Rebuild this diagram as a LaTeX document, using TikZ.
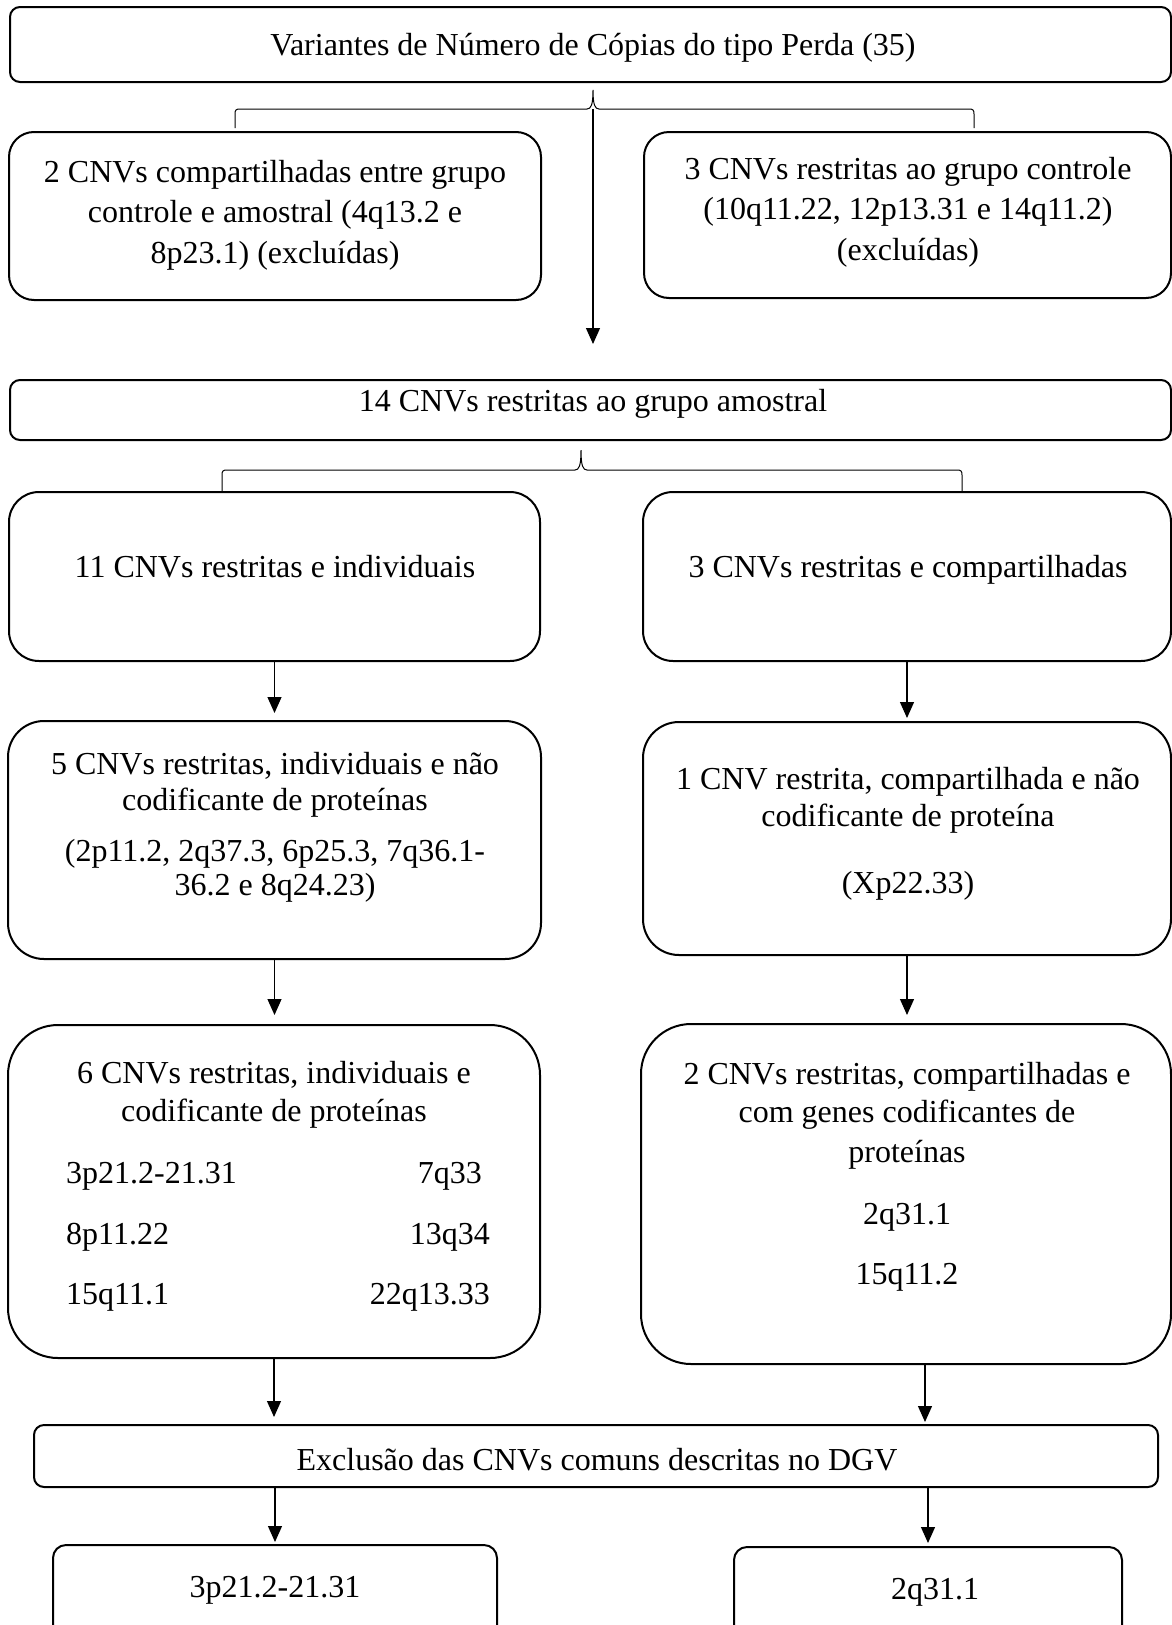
\documentclass[tikz,border=0pt]{standalone}
\usepackage{fontspec}
\setmainfont{Liberation Serif}
\usetikzlibrary{arrows.meta}
\tikzset{
  box/.style={draw, line width=2pt, inner sep=0pt, outer sep=0pt},
  arr/.style={line width=1.2pt, -{Triangle[length=16pt,width=14pt]}},
  bracepath/.style={line width=1pt},
  lbl/.style={anchor=base, inner sep=0pt, font=\fontsize{32}{40}\selectfont},
  lblw/.style={lbl, anchor=base west},
  lble/.style={lbl, anchor=base east}
}
\begin{document}
\begin{tikzpicture}[x=1pt,y=-1pt]
\useasboundingbox (0,0) rectangle (1172,1625);
% boxes
\node[box, rounded corners=10pt, minimum width=1161pt, minimum height=75pt] (top) at (590.5,44.5) {};
\node[box, rounded corners=25pt, minimum width=532pt, minimum height=168pt] (b2l) at (275,216) {};
\node[box, rounded corners=25pt, minimum width=527pt, minimum height=166pt] (b2r) at (907.5,215) {};
\node[box, rounded corners=10pt, minimum width=1161pt, minimum height=60pt] (mid) at (590.5,410) {};
\node[box, rounded corners=30pt, minimum width=531pt, minimum height=169pt] (b3l) at (274.5,576.5) {};
\node[box, rounded corners=30pt, minimum width=528pt, minimum height=169pt] (b3r) at (907,576.5) {};
\node[box, rounded corners=36pt, minimum width=533pt, minimum height=238pt] (b4l) at (274.5,840) {};
\node[box, rounded corners=36pt, minimum width=528pt, minimum height=233pt] (b4r) at (907,838.5) {};
\node[box, rounded corners=50pt, minimum width=532pt, minimum height=333pt] (b5l) at (274,1191.5) {};
\node[box, rounded corners=50pt, minimum width=530pt, minimum height=340pt] (b5r) at (906,1194) {};
\node[box, rounded corners=10pt, minimum width=1124pt, minimum height=62pt] (excl) at (596,1456) {};
\node[box, rounded corners=13pt, minimum width=444pt, minimum height=105pt] (fl) at (275,1597.5) {};
\node[box, rounded corners=13pt, minimum width=388pt, minimum height=103pt] (fr) at (928,1598.5) {};
% texts
\node[lbl] (t1) at (593,55) {Variantes de Número de Cópias do tipo Perda (35)};
\node[lbl] (t2a) at (275,182) {2 CNVs compartilhadas entre grupo};
\node[lbl] (t2b) at (275,222) {controle e amostral (4q13.2 e};
\node[lbl] (t2c) at (275,263) {8p23.1) (excluídas)};
\node[lbl] (t3a) at (908,179) {3 CNVs restritas ao grupo controle};
\node[lbl] (t3b) at (908,219) {(10q11.22, 12p13.31 e 14q11.2)};
\node[lbl] (t3c) at (908,260) {(excluídas)};
\node[lbl] (t4) at (593,411) {14 CNVs restritas ao grupo amostral};
\node[lbl] (t5) at (275,577) {11 CNVs restritas e individuais};
\node[lbl] (t6) at (908,577) {3 CNVs restritas e compartilhadas};
\node[lbl] (t7a) at (275,774) {5 CNVs restritas, individuais e não};
\node[lbl] (t7b) at (275,810) {codificante de proteínas};
\node[lbl] (t7c) at (275,861) {(2p11.2, 2q37.3, 6p25.3, 7q36.1-};
\node[lbl] (t7d) at (275,895) {36.2 e 8q24.23)};
\node[lbl] (t8a) at (908,789) {1 CNV restrita, compartilhada e não};
\node[lbl] (t8b) at (908,826) {codificante de proteína};
\node[lbl] (t8c) at (908,893) {(Xp22.33)};
\node[lbl] (t9a) at (274,1083) {6 CNVs restritas, individuais e};
\node[lbl] (t9b) at (274,1121) {codificante de proteínas};
\node[lblw] (t9c) at (66,1183) {3p21.2-21.31};
\node[lble] (t9d) at (482,1183) {7q33};
\node[lblw] (t9e) at (66,1244) {8p11.22};
\node[lble] (t9f) at (490,1244) {13q34};
\node[lblw] (t9g) at (66,1304) {15q11.1};
\node[lble] (t9h) at (490,1304) {22q13.33};
\node[lbl] (t10a) at (907,1084) {2 CNVs restritas, compartilhadas e};
\node[lbl] (t10b) at (907,1122) {com genes codificantes de};
\node[lbl] (t10c) at (907,1162) {proteínas};
\node[lbl] (t10d) at (907,1224) {2q31.1};
\node[lbl] (t10e) at (907,1284) {15q11.2};
\node[lbl] (t11) at (597,1470) {Exclusão das CNVs comuns descritas no DGV};
\node[lbl] (t12) at (275,1597) {3p21.2-21.31};
\node[lbl] (t13) at (935,1599) {2q31.1};
% braces
\draw[bracepath] (235,128) -- (235,114) .. controls (235,110) and (236,109) .. (240,109) -- (587,109) .. controls (591,109) and (593,105) .. (593,90) .. controls (593,105) and (595,109) .. (599,109) -- (969,109) .. controls (973,109) and (974,110) .. (974,114) -- (974,128);
\draw[bracepath] (222,491) -- (222,475) .. controls (222,471) and (223,470) .. (227,470) -- (575,470) .. controls (579,470) and (581,466) .. (581,450) .. controls (581,466) and (583,470) .. (587,470) -- (957,470) .. controls (961,470) and (962,471) .. (962,475) -- (962,491);
\coordinate (br1) at (593,109);
% arrows
\draw[arr, shorten >=36pt] (br1) -- (br1 |- mid.north);
\draw[arr, shorten >=8pt] (b3l.south) -- (b3l.south |- b4l.north);
\draw[arr, shorten >=4pt] (b3r.south) -- (b3r.south |- b4r.north);
\draw[arr, shorten >=10pt] (b4l.south) -- (b4l.south |- b5l.north);
\draw[arr, shorten >=9pt] (b4r.south) -- (b4r.south |- b5r.north);
\draw[arr, shorten >=8pt] (b5l.south) -- (b5l.south |- excl.north);
\draw[arr, shorten >=3pt] ([xshift=19pt]b5r.south) -- ([xshift=19pt]b5r.south |- excl.north);
\draw[arr, shorten >=3pt] (excl.south -| fl.north) -- (fl.north);
\draw[arr, shorten >=4pt] (excl.south -| fr.north) -- (fr.north);
\end{tikzpicture}
\end{document}
